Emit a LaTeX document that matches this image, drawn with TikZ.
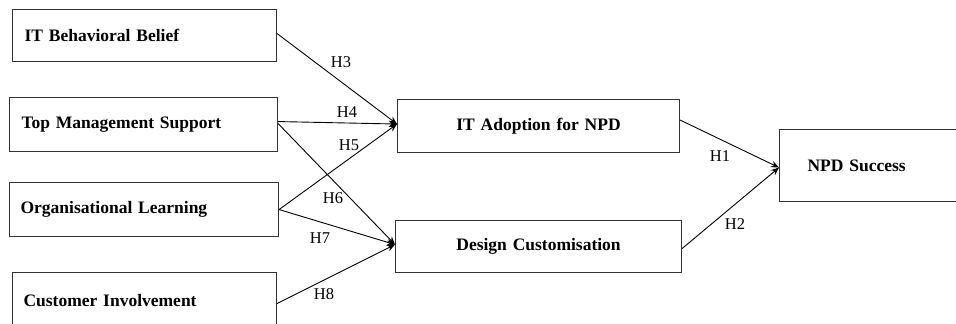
\documentclass[tikz,border=0pt]{standalone}
\usepackage{fontspec}
\setmainfont{Liberation Serif}
\usetikzlibrary{arrows.meta}
\begin{document}
\begin{tikzpicture}[x=1pt,y=-1pt,
  box/.style={draw=black!80,line width=1.1pt,rectangle,anchor=north west,inner xsep=0pt,inner ysep=0pt,
    font=\fontsize{17.5}{20}\selectfont\bfseries},
  lbox/.style={box,align=left},
  cbox/.style={box,align=center},
  link/.style={line width=0.9pt,-{Stealth[length=8pt,width=6.5pt]}},
  hlab/.style={font=\fontsize{16.5}{18}\selectfont,inner sep=0pt}]
\useasboundingbox (0,0) rectangle (956,324);
\clip (0,0) rectangle (956,324);
% left boxes
\node[lbox,minimum width=264pt,minimum height=52pt,text width=252pt] (ibb) at (12,9) {\hspace*{6pt}IT Behavioral Belief};
\node[lbox,minimum width=268pt,minimum height=54pt,text width=256pt] (tms) at (9,97) {\hspace*{6pt}Top Management Support};
\node[lbox,minimum width=269pt,minimum height=54pt,text width=257pt] (orl) at (9,182) {\hspace*{5pt}Organisational Learning};
\node[lbox,minimum width=264pt,minimum height=56pt,text width=252pt] (cin) at (12,272) {\hspace*{5pt}Customer Involvement};
% middle boxes
\node[cbox,minimum width=282pt,minimum height=53pt,text width=282pt] (ita) at (397,99) {IT Adoption for NPD};
\node[cbox,minimum width=286pt,minimum height=52pt,text width=286pt] (dcu) at (395,220) {Design Customisation};
% right box
\node[lbox,minimum width=190pt,minimum height=72pt,text width=180pt] (nps) at (779,129) {\hspace*{23pt}NPD Success};
% arrow end points
\coordinate (itaw) at ([yshift=2pt]ita.west);
\coordinate (dcuw) at ([yshift=2pt]dcu.west);
\coordinate (npsw) at ([yshift=-2pt]nps.west);
\coordinate (itae) at ([yshift=6pt]ita.east);
% connectors
\draw[link] ([yshift=2pt]ibb.east) -- (itaw);
\draw[link] ([yshift=3pt]tms.east) -- (itaw);
\draw[link] (orl.east) -- (itaw);
\draw[link] ([yshift=1pt]tms.east) -- (dcuw);
\draw[link] (orl.east) -- (dcuw);
\draw[link] ([yshift=-3pt]cin.east) -- (dcuw);
\draw[link] (itae) -- (npsw);
\draw[link] ([yshift=-2pt]dcu.east) -- (npsw);
% labels
\node[hlab] (h3) at (341,62) {H3};
\node[hlab] (h4) at (347,112) {H4};
\node[hlab] (h5) at (349,145) {H5};
\node[hlab] (h6) at (333,198) {H6};
\node[hlab] (h7) at (320,238) {H7};
\node[hlab] (h8) at (324,294) {H8};
\node[hlab] (h1) at (720,156) {H1};
\node[hlab] (h2) at (735,224) {H2};
\end{tikzpicture}
\end{document}
